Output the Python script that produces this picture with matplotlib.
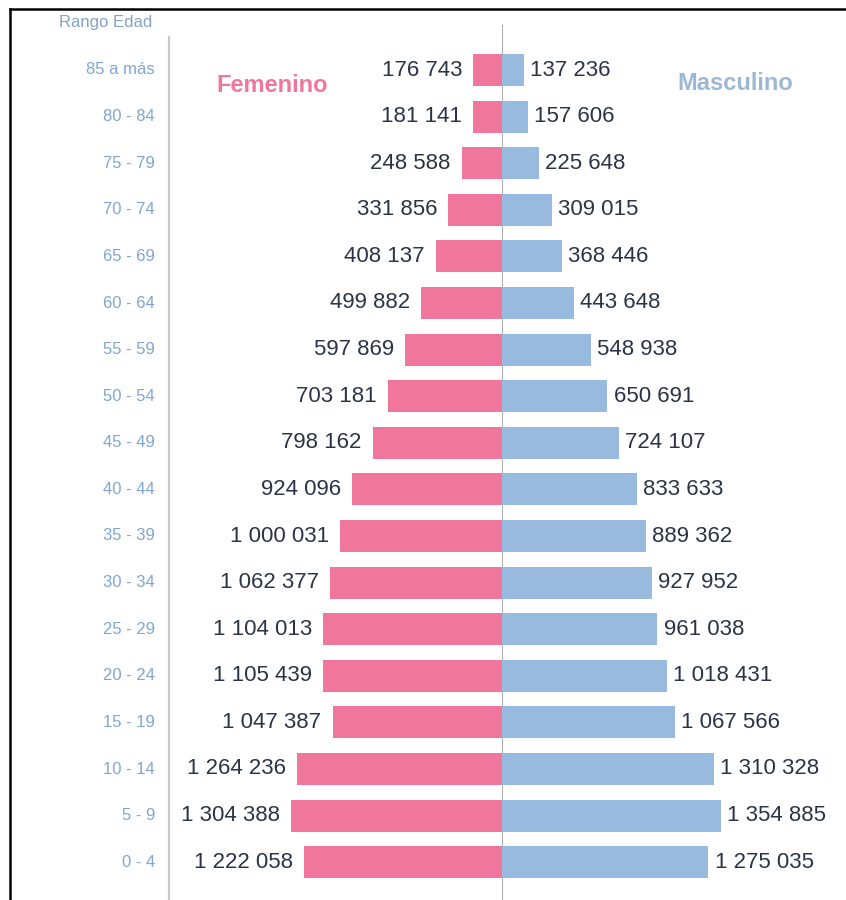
import matplotlib.pyplot as plt
from matplotlib.lines import Line2D

plt.rcParams['font.family'] = ['Liberation Sans', 'DejaVu Sans']

ages = ["85 a más", "80 - 84", "75 - 79", "70 - 74", "65 - 69", "60 - 64",
        "55 - 59", "50 - 54", "45 - 49", "40 - 44", "35 - 39", "30 - 34",
        "25 - 29", "20 - 24", "15 - 19", "10 - 14", "5 - 9", "0 - 4"]
femenino = [176743, 181141, 248588, 331856, 408137, 499882, 597869, 703181,
            798162, 924096, 1000031, 1062377, 1104013, 1105439, 1047387,
            1264236, 1304388, 1222058]
masculino = [137236, 157606, 225648, 309015, 368446, 443648, 548938, 650691,
             724107, 833633, 889362, 927952, 961038, 1018431, 1067566,
             1310328, 1354885, 1275035]

pink = '#f0779b'
blue = '#97bade'
dark = '#2b3446'
age_col = '#7ea6d3'


def fmt(v):
    return f"{v:,}".replace(",", " ")


fig = plt.figure(figsize=(8.46, 9), dpi=100)
ax = fig.add_axes([0, 0, 1, 1])
ax.axis('off')

# pixel based layout: centre at x=502px, 161.8 px per million, rows 46.6 px apart
px = 161.8e-6
ax.set_xlim(-502 / px, 344 / px)
ax.set_ylim(830 / 46.6, -70 / 46.6)

y = list(range(len(ages)))
ax.barh(y, [-v for v in femenino], height=0.69, color=pink, zorder=2)
ax.barh(y, masculino, height=0.69, color=blue, zorder=2)

for i in y:
    ax.annotate(fmt(femenino[i]), (-femenino[i], i), xytext=(-8, 0),
                textcoords='offset points', ha='right', va='center',
                fontsize=16, color=dark)
    ax.annotate(fmt(masculino[i]), (masculino[i], i), xytext=(4.5, 0),
                textcoords='offset points', ha='left', va='center',
                fontsize=16, color=dark)
    ax.text(-347 / px, i, ages[i], ha='right', va='center',
            fontsize=12, color=age_col)

ax.text(-350 / px, (22 - 70) / 46.6, 'Rango Edad', ha='right', va='center',
        fontsize=12, color='#86a3c8')
ax.text(-230 / px, (86 - 70) / 46.6, 'Femenino', ha='center', va='center',
        fontsize=17, fontweight='bold', color=pink)
ax.text(233 / px, (84 - 70) / 46.6, 'Masculino', ha='center', va='center',
        fontsize=17, fontweight='bold', color='#9db8d6')

# centre and left guide lines
ax.plot([0, 0], [(25 - 70) / 46.6, 830 / 46.6], color='#b0b0b0', lw=0.8, zorder=1)
ax.plot([-333 / px, -333 / px], [(37 - 70) / 46.6, 830 / 46.6],
        color='#c8c8c8', lw=1.6, zorder=1)

# black frame on top and left
fig.add_artist(Line2D([9.5 / 846, 1], [1 - 8.5 / 900, 1 - 8.5 / 900],
                      color='black', lw=1.8, transform=fig.transFigure))
fig.add_artist(Line2D([9.5 / 846, 9.5 / 846], [0, 1 - 8.5 / 900],
                      color='black', lw=1.8, transform=fig.transFigure))

fig.savefig('out.png', dpi=100)
